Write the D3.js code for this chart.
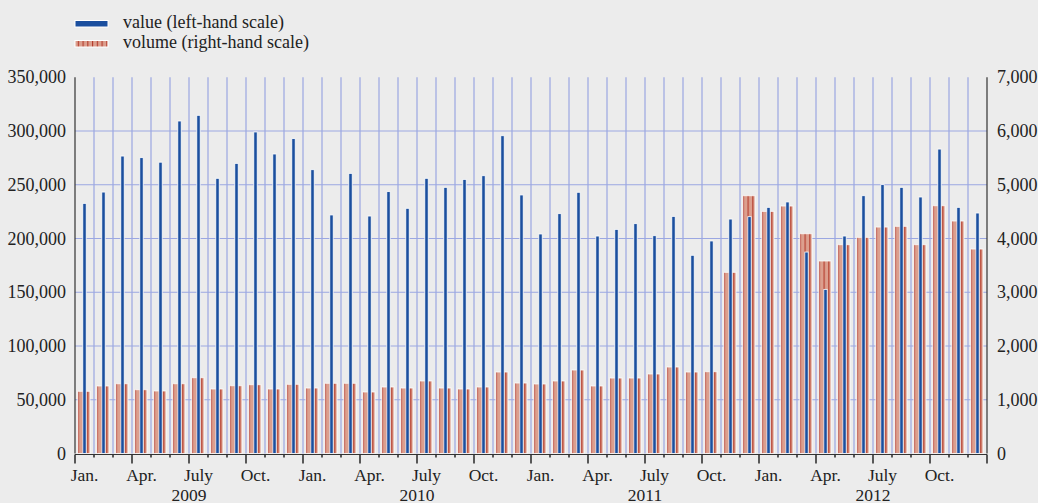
<!DOCTYPE html>
<html>
<head>
<meta charset="utf-8">
<script src="https://cdn.jsdelivr.net/npm/d3@7"></script>
<style>
  body { margin: 0; background: #ececec; }
  svg { display: block; }
  text { font-family: "Liberation Serif", "DejaVu Serif", "Times New Roman", serif; }
</style>
</head>
<body>
<div id="chart"></div>
<script>
// monthly values, Jan. 2009 - Dec. 2012
var valueData = [
  232700, 243200, 276700, 275200, 271000, 309300, 314600, 256000, 269900, 299100, 278600, 292900,
  264000, 221900, 260600, 220900, 243600, 228100, 256000, 247600, 255000, 258400, 295600, 240500,
  204200, 223100, 243000, 202300, 208500, 213800, 202600, 220600, 184400, 197700, 218100, 220300,
  229000, 234000, 187400, 152700, 202300, 239800, 250100, 247600, 238600, 283200, 229000, 223700
];
var volumeData = [
  1157, 1256, 1298, 1187, 1163, 1298, 1410, 1200, 1261, 1280, 1200, 1287,
  1218, 1306, 1306, 1144, 1237, 1218, 1349, 1218, 1200, 1237, 1516, 1311,
  1293, 1349, 1553, 1256, 1404, 1404, 1479, 1609, 1516, 1522, 3370, 4796,
  4504, 4604, 4089, 3581, 3885, 4021, 4213, 4226, 3885, 4610, 4325, 3804
];
var quarterLabels = ["Jan.", "Apr.", "July", "Oct."];
var years = ["2009", "2010", "2011", "2012"];
var leftTicks = [0, 50000, 100000, 150000, 200000, 250000, 300000, 350000];
var rightTicks = [0, 1000, 2000, 3000, 4000, 5000, 6000, 7000];
var legendLabels = ["value (left-hand scale)", "volume (right-hand scale)"];

var W = 1038, H = 503;
var margin = { top: 77.25, right: 51, bottom: 49.5, left: 75 };
var blue = "#1b4f9f", salmon = "#dc9f8e", darkRed = "#b3392a", grid = "#9ba7e2";

var svg = d3.select("#chart").append("svg")
  .attr("width", W).attr("height", H)
  .attr("font-family", "Liberation Serif, DejaVu Serif, serif");

svg.append("rect").attr("width", W).attr("height", H).attr("fill", "#ececec");

var months = d3.range(valueData.length);
var x = d3.scaleBand().domain(months).range([margin.left, W - margin.right]);
var yLeft = d3.scaleLinear().domain([0, 350000]).range([H - margin.bottom, margin.top]);
var yRight = d3.scaleLinear().domain([0, 7000]).range([H - margin.bottom, margin.top]);
var bw = x.bandwidth();

// striped fill for volume bars
var defs = svg.append("defs");
var pat = defs.append("pattern")
  .attr("id", "stripes")
  .attr("patternUnits", "userSpaceOnUse")
  .attr("x", margin.left + 2.8)
  .attr("width", bw / 4).attr("height", 10);
pat.append("rect").attr("width", bw / 4).attr("height", 10).attr("fill", salmon);
pat.append("rect").attr("width", 1.1).attr("height", 10).attr("fill", darkRed);

// grid
var gGrid = svg.append("g");
gGrid.selectAll("line.h")
  .data(leftTicks.slice(1, -1))
  .enter().append("line")
  .attr("x1", margin.left).attr("x2", W - margin.right)
  .attr("y1", function(d) { return yLeft(d); })
  .attr("y2", function(d) { return yLeft(d); })
  .attr("stroke", grid).attr("stroke-width", 1.2);
gGrid.selectAll("line.v")
  .data(months.slice(1))
  .enter().append("line")
  .attr("x1", function(d) { return x(d); })
  .attr("x2", function(d) { return x(d); })
  .attr("y1", margin.top).attr("y2", H - margin.bottom)
  .attr("stroke", grid).attr("stroke-width", 1.2);

// volume bars
svg.append("g").selectAll("rect")
  .data(volumeData)
  .enter().append("rect")
  .attr("x", function(d, i) { return x(i) + 2.8; })
  .attr("width", 12.2)
  .attr("y", function(d) { return yRight(d); })
  .attr("height", function(d) { return yRight(0) - yRight(d); })
  .attr("fill", "url(#stripes)")
  .attr("stroke", "#fff").attr("stroke-opacity", 0.75).attr("stroke-width", 1);

// value bars
svg.append("g").selectAll("rect")
  .data(valueData)
  .enter().append("rect")
  .attr("x", function(d, i) { return x(i) + bw / 2 - 1.7; })
  .attr("width", 3.4)
  .attr("y", function(d) { return yLeft(d); })
  .attr("height", function(d) { return yLeft(0) - yLeft(d); })
  .attr("fill", blue)
  .attr("stroke", "#fff").attr("stroke-width", 0.8);

// axes
var axisColor = "#333";
var y0 = yLeft(0);
svg.append("line")
  .attr("x1", margin.left).attr("x2", margin.left)
  .attr("y1", margin.top).attr("y2", y0)
  .attr("stroke", axisColor).attr("stroke-width", 1.2);
svg.append("line")
  .attr("x1", W - margin.right).attr("x2", W - margin.right)
  .attr("y1", margin.top).attr("y2", y0)
  .attr("stroke", axisColor).attr("stroke-width", 1.2);
svg.append("line")
  .attr("x1", margin.left).attr("x2", W - margin.right)
  .attr("y1", y0 + 1).attr("y2", y0 + 1)
  .attr("stroke", axisColor).attr("stroke-width", 1.2);

var gTicks = svg.append("g");
gTicks.selectAll("line")
  .data(d3.range(valueData.length + 1))
  .enter().append("line")
  .attr("x1", function(d) { return margin.left + d * bw; })
  .attr("x2", function(d) { return margin.left + d * bw; })
  .attr("y1", y0 + 1)
  .attr("y2", function(d) { return d % 3 === 0 ? y0 + 10 : y0 + 4; })
  .attr("stroke", axisColor).attr("stroke-width", 1.6);

svg.append("g").selectAll("text")
  .data(leftTicks)
  .enter().append("text")
  .attr("x", margin.left - 9)
  .attr("y", function(d) { return yLeft(d); })
  .attr("dy", "0.34em")
  .attr("text-anchor", "end")
  .attr("font-size", 18).attr("fill", "#222")
  .text(d3.format(","));

svg.append("g").selectAll("text")
  .data(rightTicks)
  .enter().append("text")
  .attr("x", W - margin.right + 10)
  .attr("y", function(d) { return yRight(d); })
  .attr("dy", "0.34em")
  .attr("font-size", 18).attr("fill", "#222")
  .text(d3.format(","));

// month (quarter) and year labels
svg.append("g").selectAll("text")
  .data(months.filter(function(m) { return m % 3 === 0; }))
  .enter().append("text")
  .attr("x", function(d) { return x(d) + bw / 2; })
  .attr("y", 481)
  .attr("text-anchor", "middle")
  .attr("font-size", 17.5).attr("fill", "#222")
  .text(function(d) { return quarterLabels[(d % 12) / 3]; });

svg.append("g").selectAll("text")
  .data(years)
  .enter().append("text")
  .attr("x", function(d, i) { return x(i * 12 + 6); })
  .attr("y", 500.5)
  .attr("text-anchor", "middle")
  .attr("font-size", 17.5).attr("fill", "#222")
  .text(function(d) { return d; });

// legend
var legend = svg.append("g");
legend.append("rect")
  .attr("x", 75).attr("y", 20.5).attr("width", 33).attr("height", 6.5)
  .attr("fill", blue).attr("stroke", "#fff").attr("stroke-width", 1);
legend.append("rect")
  .attr("x", 75).attr("y", 40.5).attr("width", 33).attr("height", 6.5)
  .attr("fill", "url(#stripes)").attr("stroke", "#fff").attr("stroke-width", 1);
legend.selectAll("text")
  .data(legendLabels)
  .enter().append("text")
  .attr("x", 123)
  .attr("y", function(d, i) { return 28 + i * 20; })
  .attr("font-size", 18).attr("fill", "#222")
  .text(function(d) { return d; });
</script>
</body>
</html>
